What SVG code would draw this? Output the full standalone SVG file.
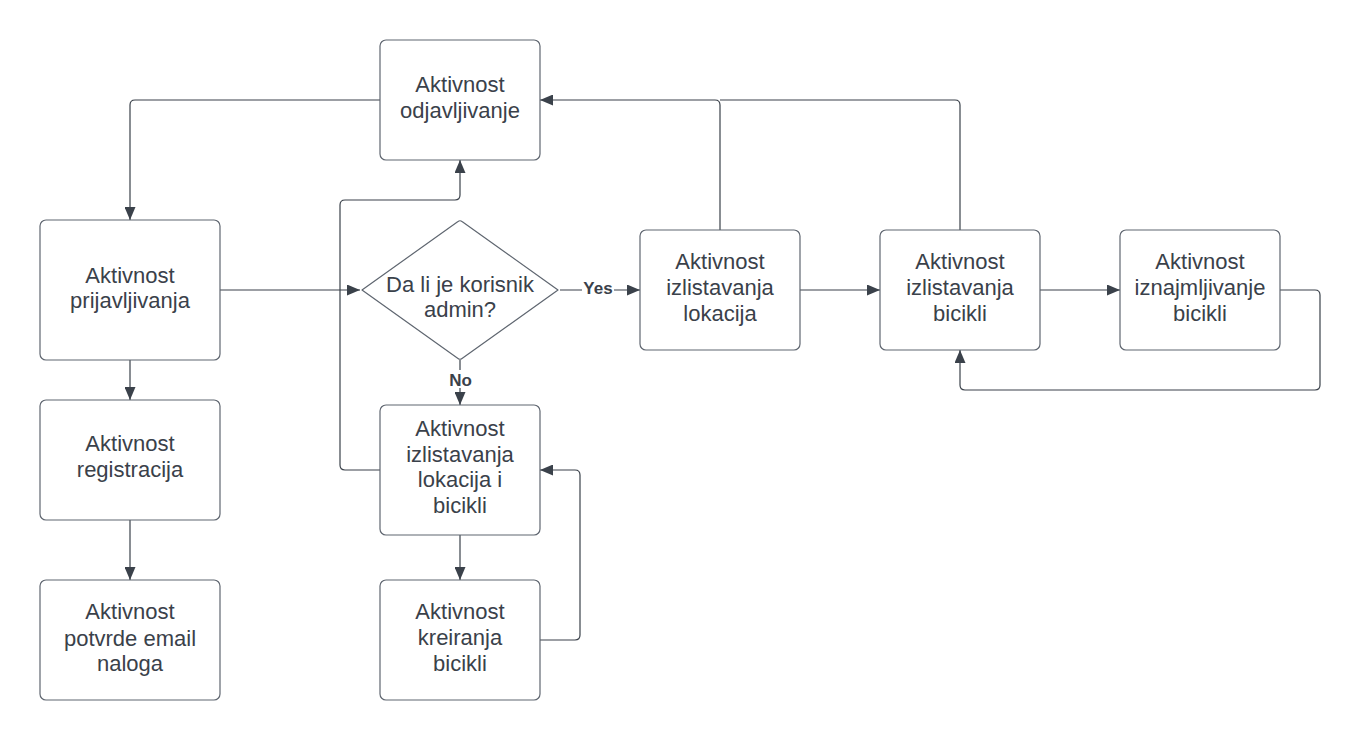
<svg xmlns="http://www.w3.org/2000/svg" width="1361" height="740" viewBox="0 0 1361 740">
<style>
.box{fill:#ffffff;stroke:#5f6670;stroke-width:1.2}
.t{font-family:"Liberation Sans",Arial,sans-serif;font-size:22px;fill:#3a414a;text-anchor:middle}
.c{fill:none;stroke:#3a414a;stroke-width:1.2}
.lbl{font-family:"Liberation Sans",Arial,sans-serif;font-size:17px;font-weight:bold;fill:#3a414a;text-anchor:middle}
</style>
<defs>
<marker id="arr" viewBox="0 0 13 11" refX="13" refY="5.5" markerWidth="13" markerHeight="11" markerUnits="userSpaceOnUse" orient="auto">
<path d="M0,0 L13,5.5 L0,11 z" fill="#3a414a"/>
</marker>
</defs>
<rect width="1361" height="740" fill="#ffffff"/>
<g id="connectors">
<path class="c" d="M380,100 H135 Q130,100 130,105 V220" marker-end="url(#arr)"/>
<path class="c" d="M130,360 V400" marker-end="url(#arr)"/>
<path class="c" d="M130,520 V580" marker-end="url(#arr)"/>
<path class="c" d="M220,290 H360" marker-end="url(#arr)"/>
<path class="c" d="M560,290 H640" marker-end="url(#arr)"/>
<path class="c" d="M460,360 V405" marker-end="url(#arr)"/>
<path class="c" d="M460,535 V580" marker-end="url(#arr)"/>
<path class="c" d="M540,640 H575 Q580,640 580,635 V475 Q580,470 575,470 H540" marker-end="url(#arr)"/>
<path class="c" d="M380,470 H345 Q340,470 340,465 V205 Q340,200 345,200 H455 Q460,200 460,195 V160" marker-end="url(#arr)"/>
<path class="c" d="M720,230 V105 Q720,100 715,100 H540" marker-end="url(#arr)"/>
<path class="c" d="M960,230 V105 Q960,100 955,100 H720"/>
<path class="c" d="M800,290 H880" marker-end="url(#arr)"/>
<path class="c" d="M1040,290 H1120" marker-end="url(#arr)"/>
<path class="c" d="M1280,290 H1315 Q1320,290 1320,295 V385 Q1320,390 1315,390 H965 Q960,390 960,385 V350" marker-end="url(#arr)"/>
<rect x="582" y="280" width="32" height="18" fill="#ffffff"/>
<text class="lbl" x="598" y="294">Yes</text>
<rect x="449" y="370" width="23" height="18" fill="#ffffff"/>
<text class="lbl" x="460.5" y="385.5">No</text>
</g>
<g id="odjavljivanje">
<rect class="box" x="380" y="40" width="160" height="120" rx="6"/>
<text class="t" x="460" y="92">Aktivnost</text>
<text class="t" x="460" y="117.5">odjavljivanje</text>
</g>
<g id="prijavljivanja">
<rect class="box" x="40" y="220" width="180" height="140" rx="6"/>
<text class="t" x="130" y="282.5">Aktivnost</text>
<text class="t" x="130" y="308">prijavljivanja</text>
</g>
<g id="registracija">
<rect class="box" x="40" y="400" width="180" height="120" rx="6"/>
<text class="t" x="130" y="451">Aktivnost</text>
<text class="t" x="130" y="476.5">registracija</text>
</g>
<g id="potvrde">
<rect class="box" x="40" y="580" width="180" height="120" rx="6"/>
<text class="t" x="130" y="619">Aktivnost</text>
<text class="t" x="130" y="645.5">potvrde email</text>
<text class="t" x="130" y="671">naloga</text>
</g>
<g id="decision">
<path class="box" d="M362,290 L458,221.5 Q460,220 462,221.5 L558,290 L462,358.5 Q460,360 458,358.5 Z" stroke-linejoin="round"/>
<text class="t" x="460" y="291.5">Da li je korisnik</text>
<text class="t" x="460" y="317">admin?</text>
</g>
<g id="izlistavanja-lokacija-i-bicikli">
<rect class="box" x="380" y="405" width="160" height="130" rx="6"/>
<text class="t" x="460" y="435.5">Aktivnost</text>
<text class="t" x="460" y="461.5">izlistavanja</text>
<text class="t" x="460" y="487">lokacija i</text>
<text class="t" x="460" y="513">bicikli</text>
</g>
<g id="kreiranja">
<rect class="box" x="380" y="580" width="160" height="120" rx="6"/>
<text class="t" x="460" y="619">Aktivnost</text>
<text class="t" x="460" y="645">kreiranja</text>
<text class="t" x="460" y="671">bicikli</text>
</g>
<g id="izlistavanja-lokacija">
<rect class="box" x="640" y="230" width="160" height="120" rx="6"/>
<text class="t" x="720" y="269">Aktivnost</text>
<text class="t" x="720" y="295">izlistavanja</text>
<text class="t" x="720" y="320.5">lokacija</text>
</g>
<g id="izlistavanja-bicikli">
<rect class="box" x="880" y="230" width="160" height="120" rx="6"/>
<text class="t" x="960" y="269">Aktivnost</text>
<text class="t" x="960" y="295">izlistavanja</text>
<text class="t" x="960" y="320.5">bicikli</text>
</g>
<g id="iznajmljivanje">
<rect class="box" x="1120" y="230" width="160" height="120" rx="6"/>
<text class="t" x="1200" y="269">Aktivnost</text>
<text class="t" x="1200" y="295">iznajmljivanje</text>
<text class="t" x="1200" y="320.5">bicikli</text>
</g>
</svg>
